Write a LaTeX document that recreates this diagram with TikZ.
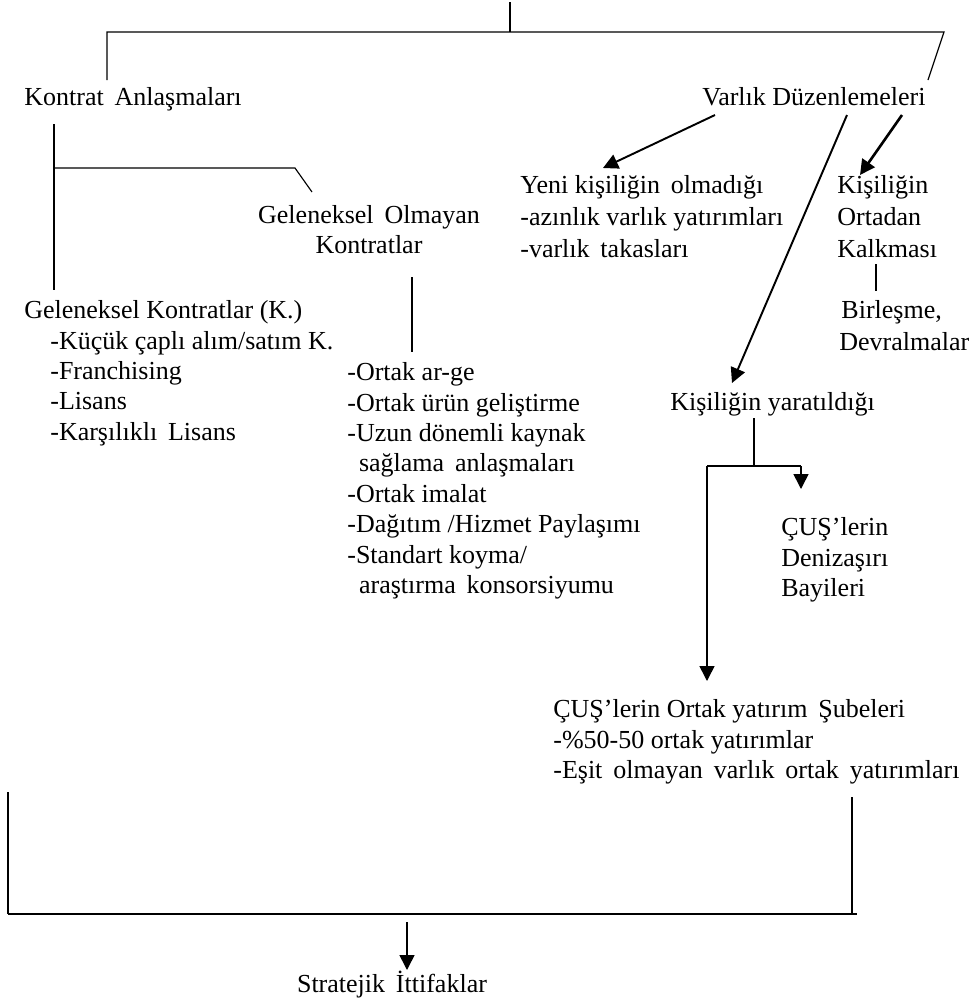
\documentclass[tikz,border=0pt]{standalone}
\usepackage{fontspec}
\setmainfont{Liberation Serif}
\usetikzlibrary{arrows.meta, positioning}

\begin{document}
\begin{tikzpicture}[
    x=0.02cm, y=-0.02cm,
    txt/.style={inner sep=0pt, font=\fontsize{14.8}{17.3}\selectfont, align=left},
    line/.style={line width=0.65pt},
    arrow/.style={-{Triangle[length=3mm, width=3mm]}, line width=1.1pt},
    downarrow/.style={-{Triangle[length=3mm, width=3mm]}, line width=0.9pt}
]
    \useasboundingbox (0,0) rectangle (974,1005);

    % top level
    \node[txt, anchor=base west] (kontrat) at (24,105) {Kontrat\, Anlaşmaları};
    \node[txt, anchor=base west] (varlik) at (702,105) {Varlık Düzenlemeleri};

    % contract branch
    \node[txt, anchor=north, align=center] (olmayan) at (369,205) {Geleneksel\, Olmayan\\Kontratlar};
    \node[txt, anchor=north west] (geleneksel) at (24,297) {\strut Geleneksel Kontratlar (K.)\\
        \hspace*{1em}-Küçük çaplı alım/satım K.\\
        \hspace*{1em}-Franchising\\
        \hspace*{1em}-Lisans\\
        \hspace*{1em}-Karşılıklı\, Lisans};
    \node[txt, anchor=north west] (ortaklist) at (347,359) {\strut -Ortak ar-ge\\
        -Ortak ürün geliştirme\\
        -Uzun dönemli kaynak\\
        \hspace*{0.45em}sağlama\, anlaşmaları\\
        -Ortak imalat\\
        -Dağıtım /Hizmet Paylaşımı\\
        -Standart koyma/\\
        \hspace*{0.45em}araştırma\, konsorsiyumu};

    % equity branch
    \node[txt, anchor=north west] (yeni) at (520,172) {\strut Yeni kişiliğin\, olmadığı\\[1pt]
        -azınlık varlık yatırımları\\[1pt]
        -varlık\, takasları};
    \node[txt, anchor=north west] (kalkma) at (837,172) {\strut Kişiliğin\\[1pt]Ortadan\\[1pt]Kalkması};
    \node[txt, anchor=north west] (birlesme) at (839,297) {\strut\hspace*{3\pgflinewidth}Birleşme,\\[1pt]Devralmalar};
    \node[txt, anchor=base west] (yaratildi) at (670,410) {Kişiliğin yaratıldığı};
    \node[txt, anchor=north west] (bayi) at (781,514) {\strut ÇUŞ’lerin\\Denizaşırı\\Bayileri};
    \node[txt, anchor=north west] (sube) at (553,696) {\strut ÇUŞ’lerin Ortak yatırım\, Şubeleri\\
        -\%50-50 ortak yatırımlar\\
        -Eşit\hspace{0.42em}olmayan\hspace{0.42em}varlık\hspace{0.42em}ortak\hspace{0.42em}yatırımları};
    \node[txt, anchor=base] (stratejik) at (392,992) {Stratejik\, İttifaklar};

    % junction points
    \coordinate (top) at (510,2);
    \coordinate (topbar) at (510,32);
    \coordinate (barleft) at (107,32);
    \coordinate (barright) at (944,32);
    \coordinate (kdrop) at (107,80);
    \coordinate (vdrop) at (928,80);
    \coordinate (kstem) at (54,124);
    \coordinate (kfork) at (54,168);
    \coordinate (kgel) at (54,290);
    \coordinate (kbend) at (295,168);
    \coordinate (kolm) at (312,192);
    \coordinate (ostem) at (412,277);
    \coordinate (oend) at (412,352);
    \coordinate (bstem) at (876,264);
    \coordinate (bend) at (876,291);
    \coordinate (ystem) at (754,418);
    \coordinate (yfork) at (754,466);
    \coordinate (yleft) at (707,466);
    \coordinate (yright) at (801,466);
    \coordinate (sleft) at (8,792);
    \coordinate (sright) at (852,797);
    \coordinate (sbarl) at (8,914);
    \coordinate (sbarr) at (857,914);
    \coordinate (sarrow) at (407,922);

    % top brace
    \draw[line] (top) -- (topbar);
    \draw[line] (kdrop) -- (barleft) -- (barright) -- (vdrop);

    % contract lines
    \draw[line] (kstem) -- (kgel);
    \draw[line] (kfork) -- (kbend) -- (kolm);
    \draw[line] (ostem) -- (oend);

    % equity arrows
    \draw[arrow] (715,115) -- (603,168);
    \draw[arrow] (847,115) -- (732,383);
    \draw[arrow, line width=1.5pt] (902,115) -- (860,175);
    \draw[line] (bstem) -- (bend);

    % new entity fork
    \draw[line] (ystem) -- (yfork);
    \draw[line] (yleft) -- (yright);
    \draw[downarrow] (yleft) -- (707,681);
    \draw[downarrow] (yright) -- (801,489);

    % bottom brace
    \draw[line] (sleft) -- (sbarl);
    \draw[line width=1pt] (sbarl) -- (sbarr);
    \draw[line] (sright) -- (sright |- sbarr);
    \draw[downarrow] (sarrow) -- (407,970);
\end{tikzpicture}
\end{document}
